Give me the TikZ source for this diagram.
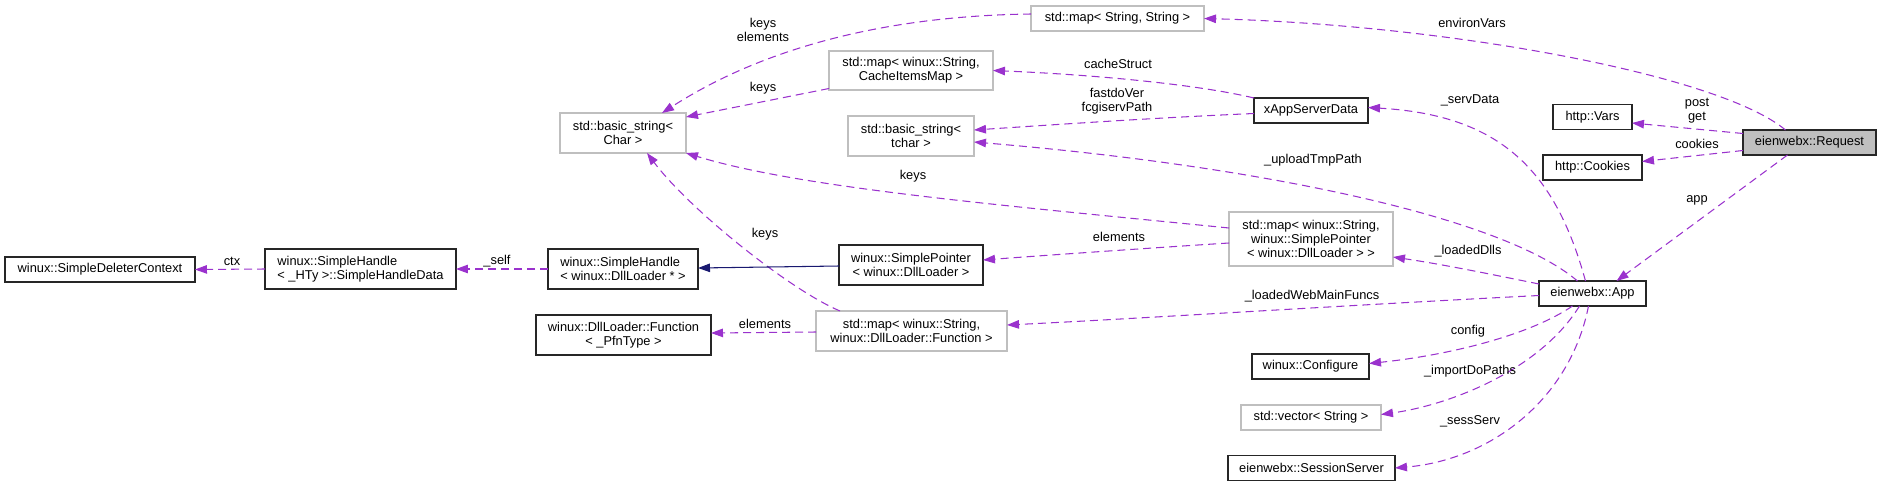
\documentclass[tikz,border=0pt]{standalone}
\usepackage{fontspec}
\setmainfont{Liberation Sans}
\usetikzlibrary{arrows.meta,calc}
\definecolor{orchid}{HTML}{9A32CD}
\definecolor{midnight}{HTML}{191970}
\definecolor{boxgray}{HTML}{BFBFBF}

\begin{document}
\begin{tikzpicture}[x=0.02cm,y=-0.02cm,
		font=\fontsize{7.3}{8}\selectfont,
		cls/.style={draw=black!85,line width=0.7pt,inner sep=0pt,outer sep=0pt,align=center,minimum height=0.5cm},
		ext/.style={cls,draw=boxgray,line width=0.6pt},
		two/.style={minimum height=0.8cm},
		three/.style={minimum height=1.08cm},
		lbl/.style={inner sep=0pt,align=center},
		member/.style={draw=orchid,line width=0.6pt,dash pattern=on 0.16cm off 0.1cm,-{Triangle[length=0.24cm,width=0.17cm]}},
		inherit/.style={draw=midnight,line width=0.6pt,-{Triangle[length=0.24cm,width=0.17cm]}}]
		\useasboundingbox (0,0) rectangle (1881,487);

		% classes
		\node[cls,minimum width=3.8cm] (ctxnode) at (100,269.5) {winux::SimpleDeleterContext};
		\node[cls,two,align=left,minimum width=3.82cm] (hdata) at (360.5,269) {winux::SimpleHandle\\< \_HTy >::SimpleHandleData};
		\node[cls,two,align=left,minimum width=3cm] (shandle) at (623,269) {winux::SimpleHandle\\< winux::DllLoader * >};
		\node[cls,two,minimum width=2.88cm] (spointer) at (911,265) {winux::SimplePointer\\< winux::DllLoader >};
		\node[cls,two,minimum width=3.5cm] (dfunc) at (623.5,335) {winux::DllLoader::Function\\< \_PfnType >};
		\node[ext,two,minimum width=3.82cm] (mapfunc) at (911.5,331) {std::map< winux::String,\\ winux::DllLoader::Function >};
		\node[ext,two,minimum width=2.52cm] (strchar) at (623,133) {std::basic\_string<\\Char >};
		\node[ext,two,minimum width=3.28cm,minimum height=0.78cm] (mapcache) at (911,70.5) {std::map< winux::String,\\CacheItemsMap >};
		\node[ext,two,minimum width=2.52cm] (strtchar) at (911,136) {std::basic\_string<\\tchar >};
		\node[ext,minimum width=3.46cm] (mapstr) at (1117.5,18.5) {std::map< String, String >};
		\node[cls,minimum width=2.28cm] (servdata) at (1311,110.5) {xAppServerData};
		\node[ext,three,minimum width=3.28cm] (mapdll) at (1311,239) {std::map< winux::String,\\winux::SimplePointer\\< winux::DllLoader > >};
		\node[cls,minimum width=2.14cm] (app) at (1592.5,293.5) {eienwebx::App};
		\node[cls,minimum width=2.34cm] (configure) at (1310.5,366.5) {winux::Configure};
		\node[ext,minimum width=2.8cm] (vecstr) at (1311,417.5) {std::vector< String >};
		\node[cls,minimum width=3.34cm] (sess) at (1311.5,468) {eienwebx::SessionServer};
		\node[cls,minimum width=1.58cm] (vars) at (1592.5,117) {http::Vars};
		\node[cls,minimum width=1.98cm] (cookies) at (1592.5,167.5) {http::Cookies};
		\node[cls,fill=boxgray,minimum width=2.66cm] (request) at (1809.5,142.5) {eienwebx::Request};

		% connectors
		\draw[member] ($(request.north)+(-24,0)$) .. controls (1720,75) and (1450,25) .. (mapstr.east);
		\draw[member] ($(mapstr.west)+(0,-4.5)$) .. controls (880,16) and (760,50) .. ($(strchar.north)+(39,0)$);
		\draw[member] ($(mapcache.west)+(0,18)$) -- ($(strchar.east)+(0,-16)$);
		\draw[member] ($(mapdll.west)+(0,-11)$) .. controls (1000,205) and (800,188) .. (strchar.south east);
		\draw[member] ($(mapfunc.north west)+(24,0)$) .. controls (790,290) and (690,210) .. ($(strchar.south)+(24,0)$);
		\draw[member] ($(mapfunc.west)+(0,1)$) -- ($(dfunc.east)+(0,-2)$);
		\draw[member] ($(mapdll.west)+(0,4)$) .. controls (1150,248) and (1050,255) .. ($(spointer.east)+(0,-5)$);
		\draw[inherit] ($(spointer.west)+(0,1)$) -- ($(shandle.east)+(0,-1)$);
		\draw[member] (shandle.west) -- (hdata.east);
		\draw[member] (hdata.west) -- (ctxnode.east);
		\draw[member] (servdata.north west) .. controls (1200,85) and (1100,75) .. (mapcache.east);
		\draw[member] ($(servdata.west)+(0,3)$) .. controls (1150,118) and (1050,125) .. ($(strtchar.east)+(0,-6)$);
		\draw[member] ($(app.north)+(-15,0)$) .. controls (1500,215) and (1250,165) .. ($(strtchar.east)+(0,6)$);
		\draw[member] ($(app.north)+(-7,0)$) .. controls (1555,170) and (1500,115) .. ($(servdata.east)+(0,-3)$);
		\draw[member] ($(app.north west)+(0,3)$) .. controls (1480,272) and (1440,264) .. ($(mapdll.east)+(0,18)$);
		\draw[member] ($(app.west)+(0,2)$) .. controls (1350,305) and (1150,318) .. ($(mapfunc.east)+(0,-6)$);
		\draw[member] ($(app.south)+(-20,0)$) .. controls (1530,335) and (1450,355) .. ($(configure.east)+(0,-3)$);
		\draw[member] ($(app.south)+(-13,0)$) .. controls (1540,370) and (1450,405) .. ($(vecstr.east)+(0,-3)$);
		\draw[member] ($(app.south)+(-4,0)$) .. controls (1570,400) and (1490,460) .. (sess.east);
		\draw[member] ($(request.west)+(0,-9)$) -- ($(vars.east)+(0,6)$);
		\draw[member] ($(request.west)+(0,8)$) -- ($(cookies.east)+(0,-6)$);
		\draw[member] ($(request.south)+(-22,0)$) -- ($(app.north)+(24,0)$);

		% labels
		\node[lbl] (lenv) at (1472,23) {environVars};
		\node[lbl] (lkeyel) at (763,30) {keys\\elements};
		\node[lbl] (lkeyc) at (763,88) {keys};
		\node[lbl] (lkeyd) at (913,176) {keys};
		\node[lbl] (lkeyf) at (765,234) {keys};
		\node[lbl] (lelf) at (765,324) {elements};
		\node[lbl] (leld) at (1119,237) {elements};
		\node[lbl] (lself) at (497,261) {\_self};
		\node[lbl] (lctx) at (232,261) {ctx};
		\node[lbl] (lcache) at (1118,64) {cacheStruct};
		\node[lbl] (lfast) at (1117,101.5) {fastdoVer\\fcgiservPath};
		\node[lbl] (lupload) at (1313,160) {\_uploadTmpPath};
		\node[lbl] (lserv) at (1470,100) {\_servData};
		\node[lbl] (ldlls) at (1468,251) {\_loadedDlls};
		\node[lbl] (lweb) at (1312,296) {\_loadedWebMainFuncs};
		\node[lbl] (lconf) at (1468,331) {config};
		\node[lbl] (limport) at (1470,371) {\_importDoPaths};
		\node[lbl] (lsess) at (1470,421) {\_sessServ};
		\node[lbl] (lpost) at (1697,111) {post\\get};
		\node[lbl] (lcook) at (1697,144) {cookies};
		\node[lbl] (lapp) at (1697,200) {app};
	\end{tikzpicture}
\end{document}
